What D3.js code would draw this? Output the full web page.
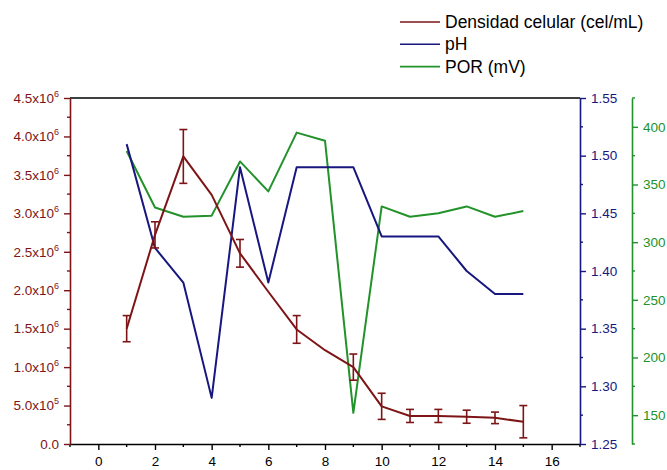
<!DOCTYPE html>
<html>
<head>
  <meta charset="UTF-8" />
  <title>Densidad celular, pH y POR</title>
  <script src="https://d3js.org/d3.v7.min.js"></script>
  <style>
    body { margin: 0; background: #fff; }
    text { font-family: "Liberation Sans", Arial, sans-serif; }
    .line { fill: none; stroke-width: 2px; stroke-linejoin: round; }
  </style>
</head>
<body>
  <svg id="chart" width="667" height="470"></svg>
  <script>
    // data
    const days = [1, 2, 3, 4, 5, 6, 7, 8, 9, 10, 11, 12, 13, 14, 15];
    const density = [1.50e6, 2.72e6, 3.74e6, 3.24e6, 2.48e6, 1.98e6, 1.49e6, 1.22e6, 1.00e6, 0.49e6, 0.365e6, 0.365e6, 0.355e6, 0.34e6, 0.29e6];
    const densityErr = [0.17e6, 0.17e6, 0.35e6, null, 0.18e6, null, 0.18e6, null, 0.17e6, 0.17e6, 0.085e6, 0.085e6, 0.085e6, 0.075e6, 0.21e6];
    const ph = [1.51, 1.42, 1.39, 1.29, 1.49, 1.39, 1.49, 1.49, 1.49, 1.43, 1.43, 1.43, 1.40, 1.38, 1.38];
    const por = [379, 330, 322, 323, 370, 344, 395, 388, 152, 331, 322, 325, 331, 322, 327];

    const leftTicks = [0, 0.5e6, 1.0e6, 1.5e6, 2.0e6, 2.5e6, 3.0e6, 3.5e6, 4.0e6, 4.5e6];
    const phTicks = [1.25, 1.30, 1.35, 1.40, 1.45, 1.50, 1.55];
    const porTicks = [150, 200, 250, 300, 350, 400];
    const xTicks = [0, 2, 4, 6, 8, 10, 12, 14, 16];

    const legendNames = ["Densidad celular (cel/mL)", "pH", "POR (mV)"];

    const RED = "#7d1517", BLUE = "#17177f", GREEN = "#22922a";

    const svg = d3.select("#chart");
    const mTop = 98, mBottom = 444, mLeft = 70, mRight = 580, greenX = 632;

    const x = d3.scaleLinear().domain([-1, 17]).range([mLeft, mRight]);
    const yL = d3.scaleLinear().domain([0, 4.5e6]).range([mBottom, mTop]);
    const yPh = d3.scaleLinear().domain([1.25, 1.55]).range([mBottom, mTop]);
    const yPor = d3.scaleLinear().domain([125, 425]).range([mBottom, mTop]);

    // superscript formatting for the left axis
    function sciLabel(sel, v) {
      if (v === 0) { sel.text("0.0"); return; }
      const e = Math.floor(Math.log10(v) + 1e-9);
      const m = (v / Math.pow(10, e)).toFixed(1);
      sel.text(m + "x10");
      sel.append("tspan").attr("dy", -6).attr("font-size", 9).text(e);
    }

    function styleAxis(g, color) {
      g.select(".domain").attr("stroke", color).attr("stroke-width", 1.6);
      g.selectAll(".tick line").attr("stroke", color).attr("stroke-width", 1.4);
      g.selectAll(".tick text").attr("fill", color).attr("font-size", 13.5);
    }

    // minor ticks
    function minor(g, scale, vals, orient, color) {
      const sel = g.selectAll("line.minor").data(vals).join("line").attr("class", "minor")
        .attr("stroke", color).attr("stroke-width", 1.4);
      if (orient === "left") sel.attr("x1", 0).attr("x2", -3).attr("y1", d => scale(d)).attr("y2", d => scale(d));
      if (orient === "right") sel.attr("x1", 0).attr("x2", 3).attr("y1", d => scale(d)).attr("y2", d => scale(d));
      if (orient === "bottom") sel.attr("y1", 0).attr("y2", 3).attr("x1", d => scale(d)).attr("x2", d => scale(d));
    }

    // top frame
    svg.append("line").attr("x1", mLeft).attr("x2", mRight).attr("y1", mTop).attr("y2", mTop)
      .attr("stroke", "#000").attr("stroke-width", 1.6);

    // bottom axis
    const gx = svg.append("g").attr("transform", `translate(0,${mBottom})`)
      .call(d3.axisBottom(x).tickValues(xTicks).tickSize(6).tickPadding(6).tickSizeOuter(0).tickFormat(d3.format("d")));
    styleAxis(gx, "#000");
    minor(gx, x, [-1, 1, 3, 5, 7, 9, 11, 13, 15, 17], "bottom", "#000");

    // left axis
    const gl = svg.append("g").attr("transform", `translate(${mLeft},0)`)
      .call(d3.axisLeft(yL).tickValues(leftTicks).tickSize(6).tickPadding(5).tickSizeOuter(0));
    styleAxis(gl, RED);
    gl.selectAll(".tick text").each(function(d) { d3.select(this).text(null); sciLabel(d3.select(this), d); });
    minor(gl, yL, d3.range(0.25e6, 4.5e6, 0.5e6), "left", RED);

    // pH axis
    const gp = svg.append("g").attr("transform", `translate(${mRight},0)`)
      .call(d3.axisRight(yPh).tickValues(phTicks).tickSize(6).tickPadding(5).tickSizeOuter(0).tickFormat(d3.format(".2f")));
    styleAxis(gp, BLUE);
    minor(gp, yPh, d3.range(1.275, 1.55, 0.05), "right", BLUE);

    // POR axis
    const gg = svg.append("g").attr("transform", `translate(${greenX},0)`)
      .call(d3.axisRight(yPor).tickValues(porTicks).tickSize(6).tickPadding(5).tickSizeOuter(0).tickFormat(d3.format("d")));
    styleAxis(gg, GREEN);
    minor(gg, yPor, d3.range(125, 426, 50), "right", GREEN);

    // lines
    svg.append("path").datum(days.map((d, i) => [d, por[i]]))
      .attr("class", "line").attr("stroke", GREEN)
      .attr("d", d3.line().x(d => x(d[0])).y(d => yPor(d[1])));

    svg.append("path").datum(days.map((d, i) => [d, ph[i]]))
      .attr("class", "line").attr("stroke", BLUE)
      .attr("d", d3.line().x(d => x(d[0])).y(d => yPh(d[1])));

    svg.append("path").datum(days.map((d, i) => [d, density[i]]))
      .attr("class", "line").attr("stroke", RED)
      .attr("d", d3.line().x(d => x(d[0])).y(d => yL(d[1])));

    // error bars
    const errData = days.map((d, i) => ({ d, v: density[i], e: densityErr[i] })).filter(o => o.e != null);
    const eb = svg.append("g").attr("stroke", RED).attr("stroke-width", 1.6);
    errData.forEach(o => {
      const cx = x(o.d), y1 = yL(o.v + o.e), y2 = yL(o.v - o.e);
      eb.append("line").attr("x1", cx).attr("x2", cx).attr("y1", y1).attr("y2", y2);
      eb.append("line").attr("x1", cx - 4).attr("x2", cx + 4).attr("y1", y1).attr("y2", y1);
      eb.append("line").attr("x1", cx - 4).attr("x2", cx + 4).attr("y1", y2).attr("y2", y2);
    });

    // legend
    const legColors = [RED, BLUE, GREEN];
    const leg = svg.append("g");
    legendNames.forEach((name, i) => {
      const ly = 22 + i * 22.3;
      leg.append("line").attr("x1", 400).attr("x2", 440).attr("y1", ly).attr("y2", ly)
        .attr("stroke", legColors[i]).attr("stroke-width", 1.6);
      leg.append("text").attr("x", 445).attr("y", ly).attr("dy", "0.35em")
        .attr("font-size", 17.5).attr("fill", "#000").text(name);
    });
  </script>
</body>
</html>
